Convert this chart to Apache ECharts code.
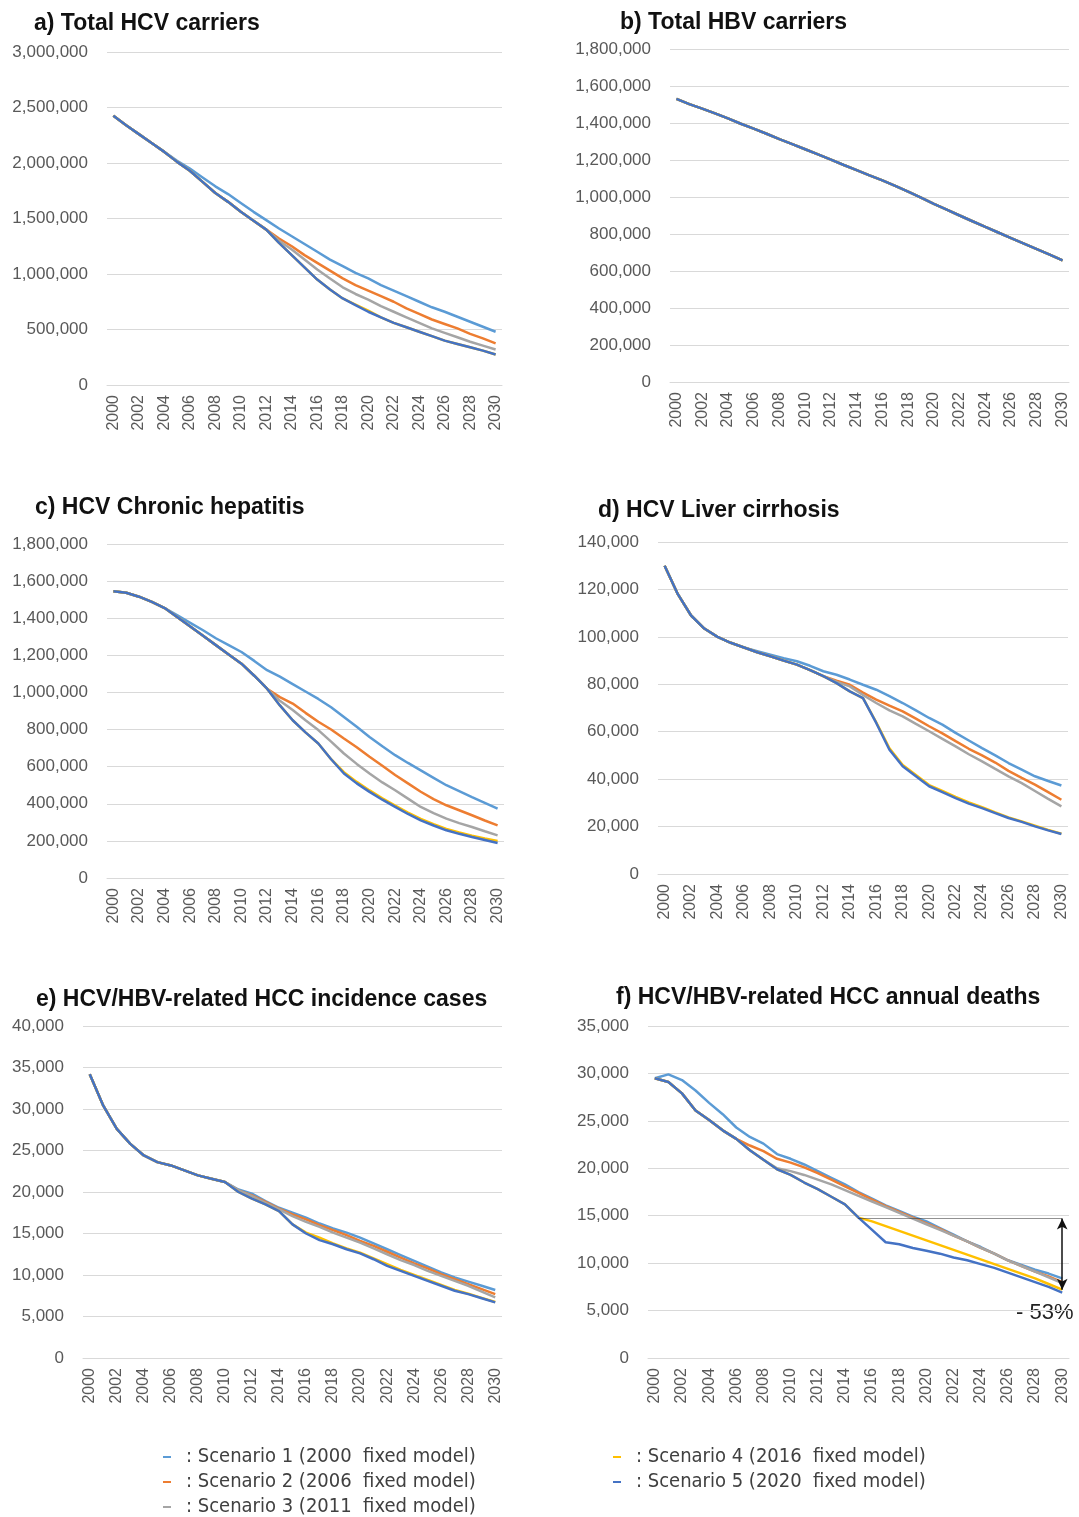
<!DOCTYPE html>
<html lang="en" style="height: 100%">
<head>
  <meta charset="utf-8">
</head>
<body style="height: 100%; margin: 0; background: #fff">
<div id="container" style="height: 100%"></div>

<script type="text/javascript" src="https://cdn.jsdelivr.net/npm/echarts@6/dist/echarts.min.js"></script>
<script type="text/javascript">
  // categories
  var years = ['2000', '2001', '2002', '2003', '2004', '2005', '2006', '2007', '2008', '2009',
    '2010', '2011', '2012', '2013', '2014', '2015', '2016', '2017', '2018', '2019',
    '2020', '2021', '2022', '2023', '2024', '2025', '2026', '2027', '2028', '2029', '2030'];
  var scenarioNames = ['Scenario 1 (2000  fixed model)', 'Scenario 2 (2006  fixed model)',
    'Scenario 3 (2011  fixed model)', 'Scenario 4 (2016  fixed model)', 'Scenario 5 (2020  fixed model)'];
  var scenarioColors = ['#5B9BD5', '#ED7D31', '#A5A5A5', '#FFC000', '#4472C4'];

  // a) Total HCV carriers
  var aS1 = [2425000, 2340000, 2260000, 2180000, 2100000, 2020000, 1950000, 1870000, 1790000, 1720000, 1640000, 1560000, 1485000, 1410000, 1340000, 1270000, 1200000, 1130000, 1070000, 1010000, 960000, 900000, 850000, 800000, 750000, 700000, 660000, 615000, 570000, 525000, 480000];
  var aS2 = [2425000, 2340000, 2260000, 2180000, 2100000, 2010000, 1930000, 1830000, 1730000, 1650000, 1560000, 1480000, 1400000, 1320000, 1250000, 1170000, 1100000, 1030000, 960000, 900000, 850000, 800000, 750000, 690000, 640000, 590000, 550000, 510000, 460000, 420000, 375000];
  var aS3 = [2425000, 2340000, 2260000, 2180000, 2100000, 2010000, 1930000, 1830000, 1730000, 1650000, 1560000, 1480000, 1400000, 1300000, 1220000, 1130000, 1040000, 960000, 880000, 820000, 770000, 710000, 660000, 610000, 560000, 510000, 470000, 430000, 390000, 355000, 320000];
  var aS4 = [2425000, 2340000, 2260000, 2180000, 2100000, 2010000, 1930000, 1830000, 1730000, 1650000, 1560000, 1480000, 1400000, 1280000, 1170000, 1060000, 950000, 860000, 780000, 725000, 670000, 610000, 560000, 520000, 480000, 440000, 400000, 370000, 340000, 310000, 275000];
  var aS5 = [2425000, 2340000, 2260000, 2180000, 2100000, 2010000, 1930000, 1830000, 1730000, 1650000, 1560000, 1480000, 1400000, 1280000, 1170000, 1060000, 950000, 860000, 780000, 720000, 660000, 610000, 560000, 520000, 480000, 440000, 400000, 370000, 340000, 310000, 275000];

  // b) Total HBV carriers (all scenarios overlap)
  var bAll = [1530000, 1502000, 1478000, 1452000, 1425000, 1396000, 1370000, 1342000, 1313000, 1286000, 1258000, 1230000, 1202000, 1173000, 1145000, 1117000, 1090000, 1060000, 1029000, 996000, 963000, 932000, 900000, 869000, 838000, 808000, 778000, 748000, 718000, 688000, 657000];

  // c) HCV Chronic hepatitis
  var cS1 = [1545000, 1537000, 1516000, 1488000, 1455000, 1415000, 1375000, 1335000, 1292000, 1255000, 1218000, 1170000, 1120000, 1085000, 1045000, 1005000, 965000, 920000, 868000, 815000, 760000, 710000, 662000, 620000, 580000, 540000, 500000, 468000, 436000, 405000, 374000];
  var cS2 = [1545000, 1537000, 1516000, 1488000, 1455000, 1405000, 1355000, 1305000, 1255000, 1205000, 1155000, 1090000, 1020000, 975000, 940000, 890000, 842000, 800000, 752000, 705000, 653000, 605000, 555000, 510000, 465000, 425000, 392000, 365000, 338000, 310000, 284000];
  var cS3 = [1545000, 1537000, 1516000, 1488000, 1455000, 1405000, 1355000, 1305000, 1255000, 1205000, 1155000, 1090000, 1020000, 955000, 905000, 850000, 797000, 735000, 671000, 615000, 563000, 515000, 473000, 428000, 383000, 350000, 320000, 296000, 275000, 252000, 230000];
  var cS4 = [1545000, 1537000, 1516000, 1488000, 1455000, 1405000, 1355000, 1305000, 1255000, 1205000, 1155000, 1090000, 1020000, 930000, 850000, 785000, 725000, 640000, 570000, 518000, 472000, 430000, 390000, 352000, 318000, 290000, 264000, 245000, 228000, 213000, 200000];
  var cS5 = [1545000, 1537000, 1516000, 1488000, 1455000, 1405000, 1355000, 1305000, 1255000, 1205000, 1155000, 1090000, 1020000, 930000, 850000, 785000, 725000, 640000, 563000, 510000, 464000, 422000, 383000, 345000, 311000, 283000, 257000, 238000, 221000, 205000, 189000];

  // d) HCV Liver cirrhosis
  var dS1 = [130000, 118000, 109000, 103500, 100000, 97500, 95500, 94000, 92500, 91000, 89700, 87800, 85500, 84000, 82000, 79800, 77700, 75000, 72100, 69000, 65800, 63000, 59500, 56300, 53100, 50000, 46800, 44000, 41200, 39200, 37300];
  var dS2 = [130000, 118000, 109000, 103500, 100000, 97500, 95500, 93500, 91800, 90000, 88300, 86000, 83400, 81500, 79800, 76500, 73500, 71000, 68600, 65500, 62300, 59300, 56000, 52800, 50000, 47000, 43500, 40500, 37700, 34500, 31300];
  var dS3 = [130000, 118000, 109000, 103500, 100000, 97500, 95500, 93500, 91800, 90000, 88300, 86000, 83400, 81000, 79100, 75500, 72100, 69000, 66500, 63300, 60200, 57000, 53800, 50500, 47500, 44300, 41200, 38300, 35000, 31700, 28500];
  var dS4 = [130000, 118000, 109000, 103500, 100000, 97500, 95500, 93500, 91800, 90000, 88300, 86000, 83400, 80500, 77000, 74200, 64000, 53000, 46000, 41800, 37500, 35000, 32500, 30200, 28200, 26000, 23900, 22200, 20400, 18600, 17000];
  var dS5 = [130000, 118000, 109000, 103500, 100000, 97500, 95500, 93500, 91800, 90000, 88300, 86000, 83400, 80500, 77000, 74200, 63700, 52400, 45400, 41200, 37000, 34500, 32000, 29700, 27800, 25700, 23600, 22000, 20100, 18400, 16900];

  // e) HCV/HBV-related HCC incidence cases
  var eS1 = [34200, 30400, 27600, 25800, 24400, 23600, 23200, 22600, 22000, 21600, 21200, 20300, 19800, 18900, 18100, 17500, 16900, 16200, 15600, 15100, 14500, 13800, 13100, 12400, 11700, 11000, 10300, 9700, 9200, 8700, 8200];
  var eS2 = [34200, 30400, 27600, 25800, 24400, 23600, 23200, 22600, 22000, 21600, 21200, 20200, 19600, 18800, 18000, 17300, 16700, 16000, 15400, 14800, 14100, 13500, 12800, 12100, 11400, 10800, 10100, 9500, 8900, 8300, 7700];
  var eS3 = [34200, 30400, 27600, 25800, 24400, 23600, 23200, 22600, 22000, 21600, 21200, 20200, 19500, 18700, 17900, 17100, 16400, 15800, 15100, 14500, 13900, 13200, 12500, 11800, 11200, 10500, 9900, 9300, 8700, 8000, 7300];
  var eS4 = [34200, 30400, 27600, 25800, 24400, 23600, 23200, 22600, 22000, 21600, 21200, 20000, 19200, 18500, 17700, 16100, 15100, 14500, 13800, 13200, 12700, 12000, 11300, 10600, 10000, 9400, 8800, 8200, 7750, 7250, 6750];
  var eS5 = [34200, 30400, 27600, 25800, 24400, 23600, 23200, 22600, 22000, 21600, 21200, 20000, 19200, 18500, 17700, 16100, 15000, 14200, 13700, 13100, 12600, 11900, 11100, 10500, 9900, 9300, 8700, 8100, 7700, 7200, 6700];

  // f) HCV/HBV-related HCC annual deaths
  var fS1 = [29500, 29900, 29300, 28200, 26900, 25700, 24300, 23300, 22600, 21500, 21000, 20400, 19700, 19000, 18300, 17500, 16800, 16100, 15500, 14900, 14400, 13700, 13000, 12300, 11700, 11000, 10300, 9800, 9300, 8900, 8400];
  var fS2 = [29500, 29100, 27900, 26100, 25100, 24000, 23100, 22400, 21800, 21000, 20600, 20100, 19500, 18800, 18100, 17400, 16700, 16000, 15400, 14800, 14200, 13600, 12900, 12300, 11600, 11000, 10300, 9700, 9100, 8600, 8000];
  var fS3 = [29500, 29100, 27900, 26100, 25100, 24000, 23100, 21900, 20900, 20000, 19700, 19300, 18800, 18300, 17700, 17100, 16500, 15900, 15300, 14700, 14100, 13500, 12900, 12300, 11600, 11000, 10300, 9700, 9100, 8500, 7900];
  var fS4 = [29500, 29100, 27900, 26100, 25100, 24000, 23100, 21900, 20900, 19900, 19300, 18500, 17800, 17000, 16200, 14800, 14400, 13900, 13400, 12900, 12400, 11900, 11400, 10900, 10400, 9900, 9400, 8900, 8400, 7800, 7200];
  var fS5 = [29500, 29100, 27900, 26100, 25100, 24000, 23100, 21900, 20900, 19900, 19300, 18500, 17800, 17000, 16200, 14800, 13500, 12200, 12000, 11600, 11300, 11000, 10600, 10300, 9900, 9500, 9000, 8500, 8000, 7500, 6900];

  // annotation in f)
  var fRefStart = '2015', fRefEnd = '2030';
  var fRefLevel = 14700, fRefBottom = 7200;
  var fRefText = '- 53%';

  var panels = [
    { title: 'a) Total HCV carriers', data: [aS1, aS2, aS3, aS4, aS5], max: 3000000, interval: 500000,
      grid: { left: 107, top: 52, width: 395, height: 333 }, tl: [34, 12] },
    { title: 'b) Total HBV carriers', data: [bAll, bAll, bAll, bAll, bAll], max: 1800000, interval: 200000,
      grid: { left: 670, top: 49, width: 399, height: 333 }, tl: [620, 11] },
    { title: 'c) HCV Chronic hepatitis', data: [cS1, cS2, cS3, cS4, cS5], max: 1800000, interval: 200000,
      grid: { left: 107, top: 544, width: 397, height: 334 }, tl: [35, 496] },
    { title: 'd) HCV Liver cirrhosis', data: [dS1, dS2, dS3, dS4, dS5], max: 140000, interval: 20000,
      grid: { left: 658, top: 542, width: 410, height: 332 }, tl: [598, 499] },
    { title: 'e) HCV/HBV-related HCC incidence cases', data: [eS1, eS2, eS3, eS4, eS5], max: 40000, interval: 5000,
      grid: { left: 83, top: 1026, width: 419, height: 332 }, tl: [36, 988] },
    { title: 'f) HCV/HBV-related HCC annual deaths', data: [fS1, fS2, fS3, fS4, fS5], max: 35000, interval: 5000,
      grid: { left: 648, top: 1026, width: 421, height: 332 }, tl: [616, 986] }
  ];

  var dom = document.getElementById('container');
  var myChart = echarts.init(dom, null, { renderer: 'canvas' });

  var titles = [], grids = [], xAxes = [], yAxes = [], series = [];
  panels.forEach(function (p, i) {
    titles.push({
      text: p.title, left: p.tl[0], top: p.tl[1], padding: 0,
      textStyle: { fontFamily: 'Liberation Sans, Arial', fontSize: 23, fontWeight: 'bold', color: '#111' }
    });
    grids.push(p.grid);
    xAxes.push({
      type: 'category', gridIndex: i, data: years, boundaryGap: true,
      axisTick: { show: false },
      axisLine: { lineStyle: { color: '#d9d9d9' } },
      axisLabel: { rotate: 90, interval: 1, margin: 10, fontSize: 16, color: '#595959', fontFamily: 'Liberation Sans, Arial' }
    });
    yAxes.push({
      type: 'value', gridIndex: i, min: 0, max: p.max, interval: p.interval,
      axisLine: { show: false }, axisTick: { show: false },
      splitLine: { lineStyle: { color: '#d9d9d9', width: 1 } },
      axisLabel: {
        margin: 19, fontSize: 17, color: '#595959', fontFamily: 'Liberation Sans, Arial',
        formatter: function (v) { return v.toLocaleString('en-US'); }
      }
    });
    p.data.forEach(function (vals, k) {
      var s = {
        type: 'line', name: scenarioNames[k], xAxisIndex: i, yAxisIndex: i,
        data: vals, color: scenarioColors[k], symbol: 'none',
        lineStyle: { width: 2.5, color: scenarioColors[k] }
      };
      if (i === 5 && k === 3) {
        s.markLine = {
          silent: true, symbol: 'none', label: { show: false },
          lineStyle: { type: 'dotted', color: '#222', width: 1 },
          data: [[{ coord: [fRefStart, fRefLevel] }, { coord: [fRefEnd, fRefLevel] }]]
        };
      }
      if (i === 5 && k === 4) {
        s.markLine = {
          silent: true, symbol: ['arrow', 'arrow'], symbolSize: [8, 11], label: { show: false },
          lineStyle: { type: 'solid', color: '#111', width: 1.5 },
          data: [[{ coord: [fRefEnd, fRefLevel] }, { coord: [fRefEnd, fRefBottom] }]]
        };
      }
      series.push(s);
    });
  });

  // one legend per row: two columns, rows 25px apart
  var legendPos = [[163, 1447], [163, 1472], [163, 1497], [613, 1447], [613, 1472]];
  var legends = scenarioNames.map(function (name, k) {
    return {
      data: [name], left: legendPos[k][0], top: legendPos[k][1], icon: 'rect',
      itemWidth: 8, itemHeight: 2, selectedMode: false, formatter: ': {name}', padding: 0,
      textStyle: {
        fontFamily: 'Liberation Sans Narrow, DejaVu Sans Condensed, Arial', fontSize: 20,
        color: '#404040', padding: [0, 0, 0, 10]
      }
    };
  });

  var option = {
    animation: false,
    title: titles,
    grid: grids,
    xAxis: xAxes,
    yAxis: yAxes,
    legend: legends,
    graphic: [
      { type: 'text', left: 1016, top: 1302,
        style: { text: fRefText, fontSize: 22, fontFamily: 'Liberation Sans, Arial', fill: '#222' } }
    ],
    series: series
  };

  if (option && typeof option === 'object') {
    myChart.setOption(option);
  }

  window.addEventListener('resize', myChart.resize);
</script>
</body>
</html>
